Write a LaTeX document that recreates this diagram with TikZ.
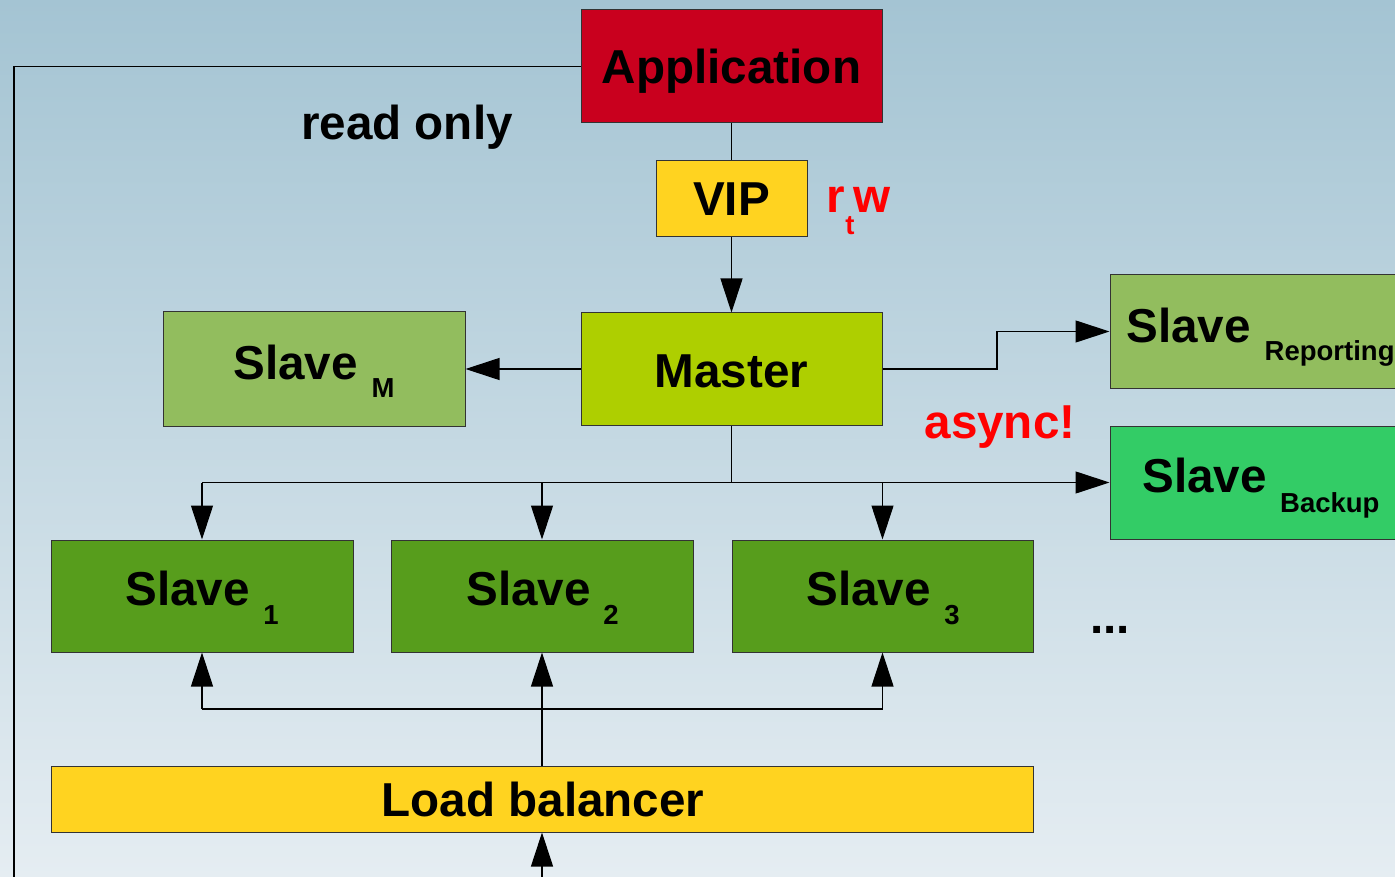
\documentclass[tikz,border=0pt]{standalone}
\usepackage{fontspec}
\setmainfont{Liberation Sans}
\usetikzlibrary{arrows.meta}
\definecolor{bgtop}{HTML}{A4C4D3}
\definecolor{bgbot}{HTML}{E5EDF2}
\definecolor{appred}{HTML}{C9001E}
\definecolor{vipyellow}{HTML}{FFD320}
\definecolor{mastergreen}{HTML}{AECF00}
\definecolor{olivegreen}{HTML}{92BD5E}
\definecolor{backupgreen}{HTML}{33CC66}
\definecolor{slavegreen}{HTML}{579D1C}
\definecolor{edgegray}{HTML}{333333}
\begin{document}
\begin{tikzpicture}[x=1pt,y=-1pt,
  box/.style={draw=edgegray, line width=1pt, inner sep=0pt},
  big/.style={inner sep=0pt, anchor=base, font=\fontsize{47.6}{56}\selectfont\bfseries},
  small/.style={inner sep=0pt, anchor=base, font=\fontsize{27.5}{33}\selectfont\bfseries},
  wire/.style={line width=1.1pt, black},
  arr/.style={wire, -{Triangle[length=34pt,width=22pt]}}]
  % background
  \shade[top color=bgtop, bottom color=bgbot] (0,0) rectangle (1395,877);
  \useasboundingbox (0,0) rectangle (1395,877);

  % boxes
  \node[box, fill=appred, minimum width=301pt, minimum height=113pt] (app) at (731.5,66.5) {};
  \node[box, fill=vipyellow, minimum width=151pt, minimum height=76pt] (vip) at (731.5,199) {};
  \node[box, fill=mastergreen, minimum width=301pt, minimum height=112pt] (master) at (731.5,369) {};
  \node[box, fill=olivegreen, minimum width=302pt, minimum height=114pt] (slaveM) at (314,369) {};
  \node[box, fill=olivegreen, minimum width=301pt, minimum height=113pt] (slaveRep) at (1260.5,331.5) {};
  \node[box, fill=backupgreen, minimum width=301pt, minimum height=113pt] (slaveBak) at (1260.5,482.5) {};
  \node[box, fill=slavegreen, minimum width=302pt, minimum height=112pt] (slave1) at (202,596) {};
  \node[box, fill=slavegreen, minimum width=302pt, minimum height=112pt] (slave2) at (542,596) {};
  \node[box, fill=slavegreen, minimum width=301pt, minimum height=112pt] (slave3) at (882.5,596) {};
  \node[box, fill=vipyellow, minimum width=982pt, minimum height=66pt] (lb) at (542,799) {};

  % texts
  \node[big] (tApp) at (731.5,83.5) {Application};
  \node[big] (tVip) at (731.5,216) {VIP};
  \node[big] (tMaster) at (731.5,387) {Master};
  \node[big] (tSlaveM) at (295.5,379) {Slave};
  \node[small] (tSubM) at (383,397) {M};
  \node[big] (tSlaveRep) at (1188.5,342) {Slave};
  \node[small, anchor=base west] (tSubRep) at (1264.5,360) {Reporting};
  \node[big] (tSlaveBak) at (1204.5,492) {Slave};
  \node[small, anchor=base west] (tSubBak) at (1280,512) {Backup};
  \node[big] (tSlave1) at (187.5,605) {Slave};
  \node[small] (tSub1) at (271,624) {1};
  \node[big] (tSlave2) at (528.5,605) {Slave};
  \node[small] (tSub2) at (611,624) {2};
  \node[big] (tSlave3) at (868.5,605) {Slave};
  \node[small] (tSub3) at (952,624) {3};
  \node[big] (tLb) at (543,816) {Load balancer};
  \node[big] (tRead) at (407,140) {read only};
  \node[big, text=red] (tAsync) at (1000,438) {async!};
  \node[big, text=red] (tR) at (836,213) {r};
  \node[small, text=red] (tT) at (850,235) {t};
  \node[big, text=red] (tW) at (872,213) {w};
  \node[big] (tDots) at (1110,633) {...};

  % junction points
  \coordinate (leftEnd) at (14,880);
  \coordinate (split) at (731.5,482.5);
  \coordinate (join) at (542,709);
  \coordinate (lbIn) at (542,880);

  % connectors
  \draw[wire] (app.west) -| (leftEnd);
  \draw[wire] (app.south) -- (vip.north);
  \draw[arr] (vip.south) -- (master.north);
  \draw[arr] (master.west) -- (slaveM.east);
  \draw[arr] (master.east) -- ++(114.5,0) |- (slaveRep.west);
  \draw[wire] (master.south) -- (split);
  \draw[arr] (slave1.north |- split) -- (slaveBak.west);
  \draw[arr] (slave1.north |- split) -- (slave1.north);
  \draw[arr] (slave2.north |- split) -- (slave2.north);
  \draw[arr] (slave3.north |- split) -- (slave3.north);
  \draw[arr] (lb.north) -- (slave2.south);
  \draw[wire] (slave1.south |- join) -- (slave3.south |- join);
  \draw[arr] (slave1.south |- join) -- (slave1.south);
  \draw[arr] (slave3.south |- join) -- (slave3.south);
  \draw[arr] (lbIn) -- (lb.south);
\end{tikzpicture}
\end{document}
